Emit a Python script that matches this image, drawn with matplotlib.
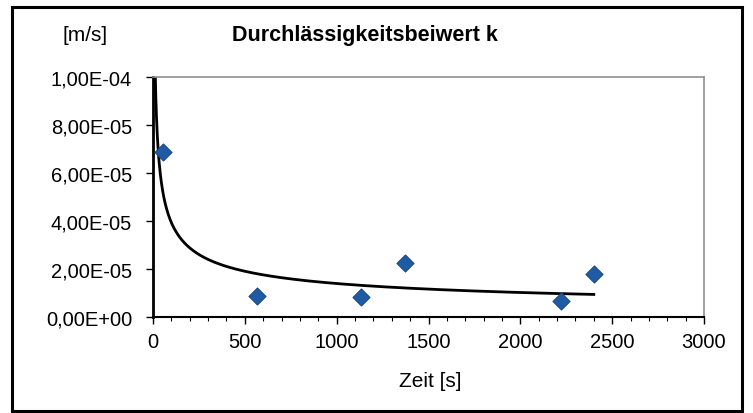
import matplotlib.pyplot as plt
from matplotlib.ticker import FuncFormatter, MultipleLocator
from matplotlib.patches import Rectangle
import numpy as np

plt.rcParams['font.family'] = ['Liberation Sans', 'DejaVu Sans']

# Messwerte
zeit = [54, 566, 1132, 1372, 2220, 2400]
k_wert = [6.88e-05, 0.87e-05, 0.85e-05, 2.24e-05, 0.67e-05, 1.79e-05]

titel = "Durchlässigkeitsbeiwert k"
y_einheit = "[m/s]"
x_titel = "Zeit [s]"


def formatiere(v, pos):
    s = "%.2E" % v
    return s.replace(".", ",")


# Potenz-Trendlinie wie in Excel (Fit in log-log)
b, ln_a = np.polyfit(np.log(zeit), np.log(k_wert), 1)
x_fit = np.linspace(1, max(zeit), 2000)
y_fit = np.exp(ln_a) * x_fit ** b

fig = plt.figure(figsize=(7.53, 4.14), dpi=100)
fig.patch.set_facecolor('white')
ax = fig.add_axes([153 / 753, 1 - 318 / 414, 551 / 753, 240 / 414])

ax.plot(x_fit, y_fit, color='black', lw=2, zorder=2)
ax.scatter(zeit, k_wert, marker='D', s=75, color='#1f5aa5', edgecolors='#1a4a8a',
           linewidths=0.8, zorder=3, clip_on=False)

ax.set_xlim(0, 3000)
ax.set_ylim(0, 1e-4)
ax.xaxis.set_major_locator(MultipleLocator(500))
ax.xaxis.set_minor_locator(MultipleLocator(100))
ax.yaxis.set_major_locator(MultipleLocator(2e-5))
ax.yaxis.set_major_formatter(FuncFormatter(formatiere))

ax.tick_params(axis='both', labelsize=14.5, direction='out', length=5, width=1)
ax.tick_params(axis='x', which='minor', direction='out', length=3, width=0.8)
ax.tick_params(axis='x', pad=6)
ax.tick_params(axis='y', pad=10)

ax.spines['left'].set_linewidth(2)
ax.spines['bottom'].set_linewidth(1.5)
ax.spines['top'].set_color('#909090')
ax.spines['right'].set_color('#909090')
ax.spines['top'].set_linewidth(1.2)
ax.spines['right'].set_linewidth(1.2)

fig.text(365 / 753, 1 - 36 / 414, titel, fontsize=15.5, fontweight='bold',
         ha='center', va='center')
fig.text(85 / 753, 1 - 36 / 414, y_einheit, fontsize=15, ha='center', va='center')
fig.text(430 / 753, 1 - 382 / 414, x_titel, fontsize=15, ha='center', va='center')

# Rahmen um das Diagramm
fig.patches.append(Rectangle((12 / 753, 1 - 412 / 414), 730 / 753, 404 / 414,
                             transform=fig.transFigure, fill=False,
                             edgecolor='black', lw=2.2))

fig.savefig("out.png", dpi=100)
